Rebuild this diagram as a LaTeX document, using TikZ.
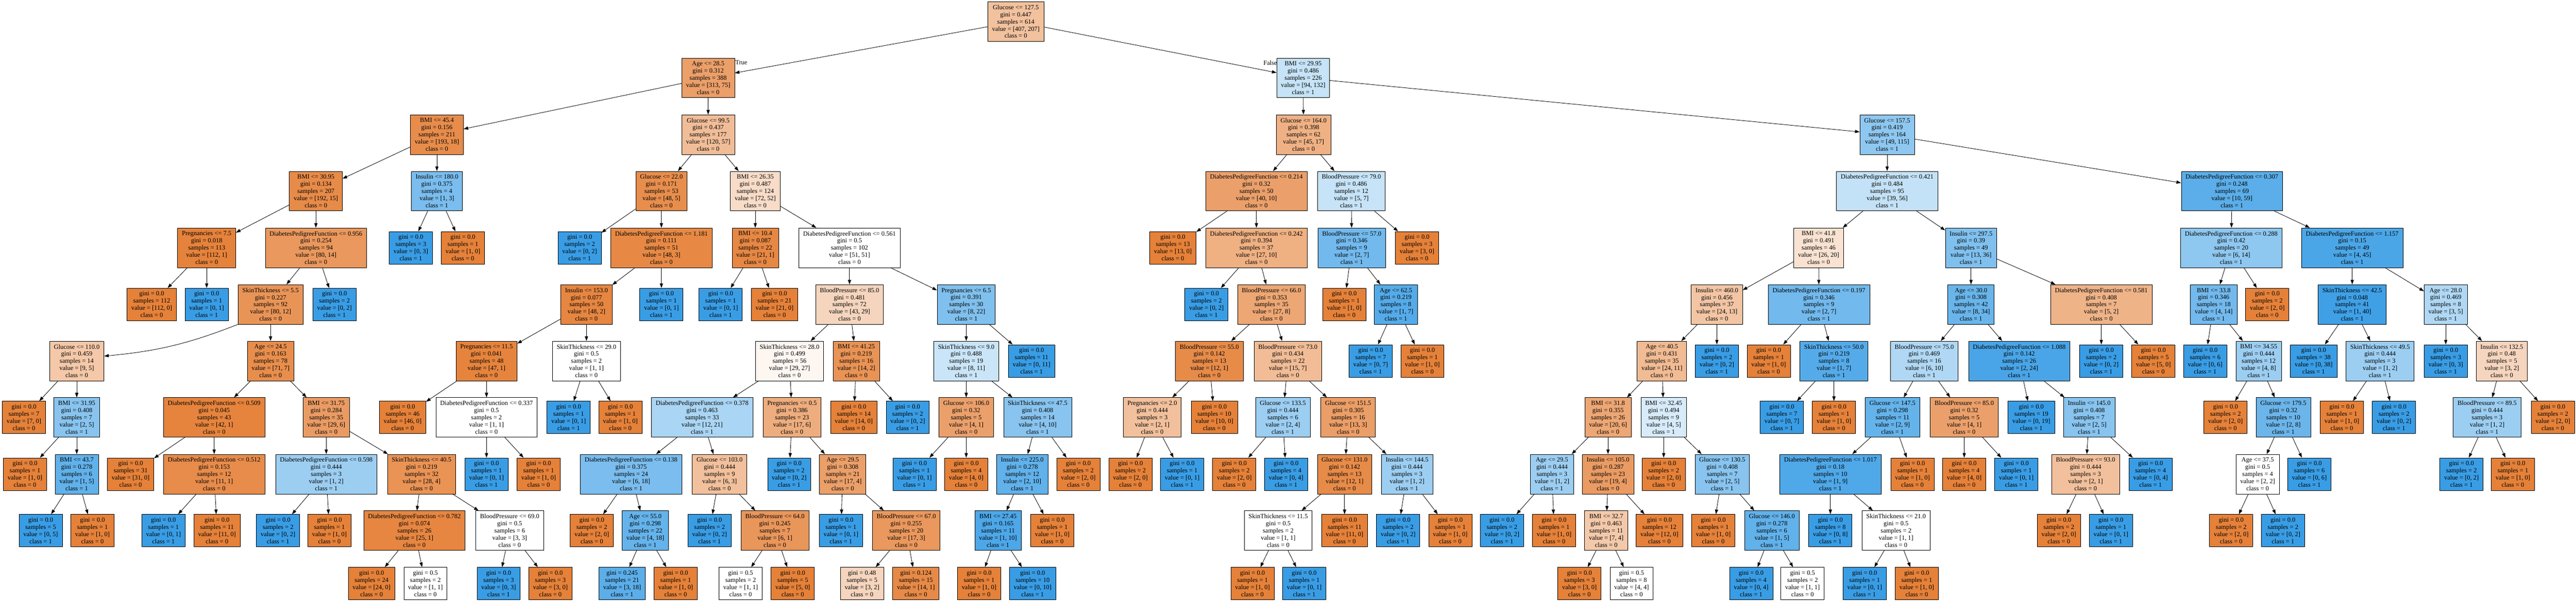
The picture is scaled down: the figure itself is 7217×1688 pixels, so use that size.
\documentclass[tikz,border=0pt]{standalone}
\usepackage{fontspec}
\setmainfont{Liberation Serif}
\usetikzlibrary{arrows.meta}
\definecolor{clszero}{HTML}{E58139}
\definecolor{clsone}{HTML}{399DE5}
\tikzset{
  testbox/.style={draw=black, line width=1pt, rectangle, align=center,
    inner xsep=12pt, inner ysep=3pt, minimum height=111pt,
    font=\fontsize{18}{20}\selectfont},
  leafbox/.style={testbox, minimum height=91pt},
  fillv/.style 2 args={/utils/exec={%
      \ifnum#1<#2\relax
        \pgfmathtruncatemacro\mixpct{(#2-#1)/#2*100+0.5}\colorlet{boxfill}{clsone!\mixpct!white}%
      \else
        \pgfmathtruncatemacro\mixpct{(#1-#2)/#1*100+0.5}\colorlet{boxfill}{clszero!\mixpct!white}%
      \fi},
    fill=boxfill},
  branch/.style={draw=black, line width=1.2pt, -{Triangle[length=13pt,width=9pt]}},
  sidelabel/.style={font=\fontsize{18}{20}\selectfont, inner sep=0pt}
}

\begin{document}
\begin{tikzpicture}[x=1pt,y=-1pt]
\fill[white] (0,0) rectangle (7217,1688);
\useasboundingbox (0,0) rectangle (7217,1688);
%   Racine :
\node[testbox,fillv={407}{207}] (n0) at (2846,60.5) {Glucose <= 127.5\\gini = 0.447\\samples = 614\\value = [407, 207]\\class = 0};
%   Niveau 1 :
\node[testbox,fillv={313}{75}] (n1a) at (1984,218.5) {Age <= 28.5\\gini = 0.312\\samples = 388\\value = [313, 75]\\class = 0};
\node[testbox,fillv={94}{132}] (n1b) at (3651,218.5) {BMI <= 29.95\\gini = 0.486\\samples = 226\\value = [94, 132]\\class = 1};
\node[sidelabel,anchor=west] (truelbl) at (2060,176) {True};
\node[sidelabel,anchor=east] (falselbl) at (3578,176) {False};
%   Niveau 2 :
\node[testbox,fillv={193}{18}] (n2a) at (1224,377.5) {BMI <= 45.4\\gini = 0.156\\samples = 211\\value = [193, 18]\\class = 0};
\node[testbox,fillv={120}{57}] (n2b) at (1984,377.5) {Glucose <= 99.5\\gini = 0.437\\samples = 177\\value = [120, 57]\\class = 0};
\node[testbox,fillv={45}{17}] (n2c) at (3652,377.5) {Glucose <= 164.0\\gini = 0.398\\samples = 62\\value = [45, 17]\\class = 0};
\node[testbox,fillv={49}{115}] (n2d) at (5287,377.5) {Glucose <= 157.5\\gini = 0.419\\samples = 164\\value = [49, 115]\\class = 1};
%   Niveau 3 :
\node[testbox,fillv={192}{15}] (n3a) at (885,536) {BMI <= 30.95\\gini = 0.134\\samples = 207\\value = [192, 15]\\class = 0};
\node[testbox,fillv={1}{3}] (n3b) at (1224,536) {Insulin <= 180.0\\gini = 0.375\\samples = 4\\value = [1, 3]\\class = 1};
\node[testbox,fillv={48}{5}] (n3c) at (1853,536) {Glucose <= 22.0\\gini = 0.171\\samples = 53\\value = [48, 5]\\class = 0};
\node[testbox,fillv={72}{52}] (n3d) at (2116,536) {BMI <= 26.35\\gini = 0.487\\samples = 124\\value = [72, 52]\\class = 0};
\node[testbox,fillv={40}{10}] (n3e) at (3520,536) {DiabetesPedigreeFunction <= 0.214\\gini = 0.32\\samples = 50\\value = [40, 10]\\class = 0};
\node[testbox,fillv={5}{7}] (n3f) at (3786,536) {BloodPressure <= 79.0\\gini = 0.486\\samples = 12\\value = [5, 7]\\class = 1};
\node[testbox,fillv={39}{56}] (n3g) at (5287,536) {DiabetesPedigreeFunction <= 0.421\\gini = 0.484\\samples = 95\\value = [39, 56]\\class = 1};
\node[testbox,fillv={10}{59}] (n3h) at (6253,536) {DiabetesPedigreeFunction <= 0.307\\gini = 0.248\\samples = 69\\value = [10, 59]\\class = 1};
%   Niveau 4 :
\node[testbox,fillv={112}{1}] (n4a) at (579,695) {Pregnancies <= 7.5\\gini = 0.018\\samples = 113\\value = [112, 1]\\class = 0};
\node[testbox,fillv={80}{14}] (n4b) at (885,695) {DiabetesPedigreeFunction <= 0.956\\gini = 0.254\\samples = 94\\value = [80, 14]\\class = 0};
\node[leafbox,fillv={0}{3}] (n4c) at (1151,695) {gini = 0.0\\samples = 3\\value = [0, 3]\\class = 1};
\node[leafbox,fillv={1}{0}] (n4d) at (1297,695) {gini = 0.0\\samples = 1\\value = [1, 0]\\class = 0};
\node[leafbox,fillv={0}{2}] (n4e) at (1624,695) {gini = 0.0\\samples = 2\\value = [0, 2]\\class = 1};
\node[testbox,fillv={48}{3}] (n4f) at (1853,695) {DiabetesPedigreeFunction <= 1.181\\gini = 0.111\\samples = 51\\value = [48, 3]\\class = 0};
\node[testbox,fillv={21}{1}] (n4g) at (2116,695) {BMI <= 10.4\\gini = 0.087\\samples = 22\\value = [21, 1]\\class = 0};
\node[testbox,fillv={51}{51}] (n4h) at (2380,695) {DiabetesPedigreeFunction <= 0.561\\gini = 0.5\\samples = 102\\value = [51, 51]\\class = 0};
\node[leafbox,fillv={13}{0}] (n4i) at (3286,695) {gini = 0.0\\samples = 13\\value = [13, 0]\\class = 0};
\node[testbox,fillv={27}{10}] (n4j) at (3520,695) {DiabetesPedigreeFunction <= 0.242\\gini = 0.394\\samples = 37\\value = [27, 10]\\class = 0};
\node[testbox,fillv={2}{7}] (n4k) at (3787,695) {BloodPressure <= 57.0\\gini = 0.346\\samples = 9\\value = [2, 7]\\class = 1};
\node[leafbox,fillv={3}{0}] (n4l) at (3970,695) {gini = 0.0\\samples = 3\\value = [3, 0]\\class = 0};
\node[testbox,fillv={26}{20}] (n4m) at (5095,695) {BMI <= 41.8\\gini = 0.491\\samples = 46\\value = [26, 20]\\class = 0};
\node[testbox,fillv={13}{36}] (n4n) at (5522,695) {Insulin <= 297.5\\gini = 0.39\\samples = 49\\value = [13, 36]\\class = 1};
\node[testbox,fillv={6}{14}] (n4o) at (6251,695) {DiabetesPedigreeFunction <= 0.288\\gini = 0.42\\samples = 20\\value = [6, 14]\\class = 1};
\node[testbox,fillv={4}{45}] (n4p) at (6590,695) {DiabetesPedigreeFunction <= 1.157\\gini = 0.15\\samples = 49\\value = [4, 45]\\class = 1};
%   Niveau 5 :
\node[leafbox,fillv={112}{0}] (n5a) at (425,854) {gini = 0.0\\samples = 112\\value = [112, 0]\\class = 0};
\node[leafbox,fillv={0}{1}] (n5b) at (579,854) {gini = 0.0\\samples = 1\\value = [0, 1]\\class = 1};
\node[testbox,fillv={80}{12}] (n5c) at (758,854) {SkinThickness <= 5.5\\gini = 0.227\\samples = 92\\value = [80, 12]\\class = 0};
\node[leafbox,fillv={0}{2}] (n5d) at (937,854) {gini = 0.0\\samples = 2\\value = [0, 2]\\class = 1};
\node[testbox,fillv={48}{2}] (n5e) at (1643,854) {Insulin <= 153.0\\gini = 0.077\\samples = 50\\value = [48, 2]\\class = 0};
\node[leafbox,fillv={0}{1}] (n5f) at (1853,854) {gini = 0.0\\samples = 1\\value = [0, 1]\\class = 1};
\node[leafbox,fillv={0}{1}] (n5g) at (2019,854) {gini = 0.0\\samples = 1\\value = [0, 1]\\class = 1};
\node[leafbox,fillv={21}{0}] (n5h) at (2170,854) {gini = 0.0\\samples = 21\\value = [21, 0]\\class = 0};
\node[testbox,fillv={43}{29}] (n5i) at (2380,854) {BloodPressure <= 85.0\\gini = 0.481\\samples = 72\\value = [43, 29]\\class = 0};
\node[testbox,fillv={8}{22}] (n5j) at (2707,854) {Pregnancies <= 6.5\\gini = 0.391\\samples = 30\\value = [8, 22]\\class = 1};
\node[leafbox,fillv={0}{2}] (n5k) at (3380,854) {gini = 0.0\\samples = 2\\value = [0, 2]\\class = 1};
\node[testbox,fillv={27}{8}] (n5l) at (3562,854) {BloodPressure <= 66.0\\gini = 0.353\\samples = 35\\value = [27, 8]\\class = 0};
\node[leafbox,fillv={1}{0}] (n5m) at (3766,854) {gini = 0.0\\samples = 1\\value = [1, 0]\\class = 0};
\node[testbox,fillv={1}{7}] (n5n) at (3911,854) {Age <= 62.5\\gini = 0.219\\samples = 8\\value = [1, 7]\\class = 1};
\node[testbox,fillv={24}{13}] (n5o) at (4810,854) {Insulin <= 460.0\\gini = 0.456\\samples = 37\\value = [24, 13]\\class = 0};
\node[testbox,fillv={2}{7}] (n5p) at (5096,854) {DiabetesPedigreeFunction <= 0.197\\gini = 0.346\\samples = 9\\value = [2, 7]\\class = 1};
\node[testbox,fillv={8}{34}] (n5q) at (5522,854) {Age <= 30.0\\gini = 0.308\\samples = 42\\value = [8, 34]\\class = 1};
\node[testbox,fillv={5}{2}] (n5r) at (5887,854) {DiabetesPedigreeFunction <= 0.581\\gini = 0.408\\samples = 7\\value = [5, 2]\\class = 0};
\node[testbox,fillv={4}{14}] (n5s) at (6202,854) {BMI <= 33.8\\gini = 0.346\\samples = 18\\value = [4, 14]\\class = 1};
\node[leafbox,fillv={2}{0}] (n5t) at (6352,854) {gini = 0.0\\samples = 2\\value = [2, 0]\\class = 0};
\node[testbox,fillv={1}{40}] (n5u) at (6590,854) {SkinThickness <= 42.5\\gini = 0.048\\samples = 41\\value = [1, 40]\\class = 1};
\node[testbox,fillv={3}{5}] (n5v) at (6852,854) {Age <= 28.0\\gini = 0.469\\samples = 8\\value = [3, 5]\\class = 1};
%   Niveau 6 :
\node[testbox,fillv={9}{5}] (n6a) at (215,1012.5) {Glucose <= 110.0\\gini = 0.459\\samples = 14\\value = [9, 5]\\class = 0};
\node[testbox,fillv={71}{7}] (n6b) at (758,1012.5) {Age <= 24.5\\gini = 0.163\\samples = 78\\value = [71, 7]\\class = 0};
\node[testbox,fillv={47}{1}] (n6c) at (1363,1012.5) {Pregnancies <= 11.5\\gini = 0.041\\samples = 48\\value = [47, 1]\\class = 0};
\node[testbox,fillv={1}{1}] (n6d) at (1643,1012.5) {SkinThickness <= 29.0\\gini = 0.5\\samples = 2\\value = [1, 1]\\class = 0};
\node[testbox,fillv={29}{27}] (n6e) at (2212,1012.5) {SkinThickness <= 28.0\\gini = 0.499\\samples = 56\\value = [29, 27]\\class = 0};
\node[testbox,fillv={14}{2}] (n6f) at (2399,1012.5) {BMI <= 41.25\\gini = 0.219\\samples = 16\\value = [14, 2]\\class = 0};
\node[testbox,fillv={8}{11}] (n6g) at (2707,1012.5) {SkinThickness <= 9.0\\gini = 0.488\\samples = 19\\value = [8, 11]\\class = 1};
\node[leafbox,fillv={0}{11}] (n6h) at (2890,1012.5) {gini = 0.0\\samples = 11\\value = [0, 11]\\class = 1};
\node[testbox,fillv={12}{1}] (n6i) at (3388,1012.5) {BloodPressure <= 55.0\\gini = 0.142\\samples = 13\\value = [12, 1]\\class = 0};
\node[testbox,fillv={15}{7}] (n6j) at (3608,1012.5) {BloodPressure <= 73.0\\gini = 0.434\\samples = 22\\value = [15, 7]\\class = 0};
\node[leafbox,fillv={0}{7}] (n6k) at (3840,1012.5) {gini = 0.0\\samples = 7\\value = [0, 7]\\class = 1};
\node[leafbox,fillv={1}{0}] (n6l) at (3985,1012.5) {gini = 0.0\\samples = 1\\value = [1, 0]\\class = 0};
\node[testbox,fillv={24}{11}] (n6m) at (4656,1012.5) {Age <= 40.5\\gini = 0.431\\samples = 35\\value = [24, 11]\\class = 0};
\node[leafbox,fillv={0}{2}] (n6n) at (4810,1012.5) {gini = 0.0\\samples = 2\\value = [0, 2]\\class = 1};
\node[leafbox,fillv={1}{0}] (n6o) at (4955,1012.5) {gini = 0.0\\samples = 1\\value = [1, 0]\\class = 0};
\node[testbox,fillv={1}{7}] (n6p) at (5138,1012.5) {SkinThickness <= 50.0\\gini = 0.219\\samples = 8\\value = [1, 7]\\class = 1};
\node[testbox,fillv={6}{10}] (n6q) at (5391,1012.5) {BloodPressure <= 75.0\\gini = 0.469\\samples = 16\\value = [6, 10]\\class = 1};
\node[testbox,fillv={2}{24}] (n6r) at (5657,1012.5) {DiabetesPedigreeFunction <= 1.088\\gini = 0.142\\samples = 26\\value = [2, 24]\\class = 1};
\node[leafbox,fillv={0}{2}] (n6s) at (5887,1012.5) {gini = 0.0\\samples = 2\\value = [0, 2]\\class = 1};
\node[leafbox,fillv={5}{0}] (n6t) at (6033,1012.5) {gini = 0.0\\samples = 5\\value = [5, 0]\\class = 0};
\node[leafbox,fillv={0}{6}] (n6u) at (6178,1012.5) {gini = 0.0\\samples = 6\\value = [0, 6]\\class = 1};
\node[testbox,fillv={4}{8}] (n6v) at (6328,1012.5) {BMI <= 34.55\\gini = 0.444\\samples = 12\\value = [4, 8]\\class = 1};
\node[leafbox,fillv={0}{38}] (n6w) at (6482,1012.5) {gini = 0.0\\samples = 38\\value = [0, 38]\\class = 1};
\node[testbox,fillv={1}{2}] (n6x) at (6668,1012.5) {SkinThickness <= 49.5\\gini = 0.444\\samples = 3\\value = [1, 2]\\class = 1};
\node[leafbox,fillv={0}{3}] (n6y) at (6852,1012.5) {gini = 0.0\\samples = 3\\value = [0, 3]\\class = 1};
\node[testbox,fillv={3}{2}] (n6z) at (7009,1012.5) {Insulin <= 132.5\\gini = 0.48\\samples = 5\\value = [3, 2]\\class = 0};
%   Niveau 7 :
\node[leafbox,fillv={7}{0}] (n7a) at (67,1171) {gini = 0.0\\samples = 7\\value = [7, 0]\\class = 0};
\node[testbox,fillv={2}{5}] (n7b) at (215,1171) {BMI <= 31.95\\gini = 0.408\\samples = 7\\value = [2, 5]\\class = 1};
\node[testbox,fillv={42}{1}] (n7c) at (600,1171) {DiabetesPedigreeFunction <= 0.509\\gini = 0.045\\samples = 43\\value = [42, 1]\\class = 0};
\node[testbox,fillv={29}{6}] (n7d) at (914,1171) {BMI <= 31.75\\gini = 0.284\\samples = 35\\value = [29, 6]\\class = 0};
\node[leafbox,fillv={46}{0}] (n7e) at (1128,1171) {gini = 0.0\\samples = 46\\value = [46, 0]\\class = 0};
\node[testbox,fillv={1}{1}] (n7f) at (1363,1171) {DiabetesPedigreeFunction <= 0.337\\gini = 0.5\\samples = 2\\value = [1, 1]\\class = 0};
\node[leafbox,fillv={0}{1}] (n7g) at (1593,1171) {gini = 0.0\\samples = 1\\value = [0, 1]\\class = 1};
\node[leafbox,fillv={1}{0}] (n7h) at (1738,1171) {gini = 0.0\\samples = 1\\value = [1, 0]\\class = 0};
\node[testbox,fillv={12}{21}] (n7i) at (1967,1171) {DiabetesPedigreeFunction <= 0.378\\gini = 0.463\\samples = 33\\value = [12, 21]\\class = 1};
\node[testbox,fillv={17}{6}] (n7j) at (2219,1171) {Pregnancies <= 0.5\\gini = 0.386\\samples = 23\\value = [17, 6]\\class = 0};
\node[leafbox,fillv={14}{0}] (n7k) at (2392,1171) {gini = 0.0\\samples = 14\\value = [14, 0]\\class = 0};
\node[leafbox,fillv={0}{2}] (n7l) at (2543,1171) {gini = 0.0\\samples = 2\\value = [0, 2]\\class = 1};
\node[testbox,fillv={4}{1}] (n7m) at (2707,1171) {Glucose <= 106.0\\gini = 0.32\\samples = 5\\value = [4, 1]\\class = 0};
\node[testbox,fillv={4}{10}] (n7n) at (2907,1171) {SkinThickness <= 47.5\\gini = 0.408\\samples = 14\\value = [4, 10]\\class = 1};
\node[testbox,fillv={2}{1}] (n7o) at (3228,1171) {Pregnancies <= 2.0\\gini = 0.444\\samples = 3\\value = [2, 1]\\class = 0};
\node[leafbox,fillv={10}{0}] (n7p) at (3402,1171) {gini = 0.0\\samples = 10\\value = [10, 0]\\class = 0};
\node[testbox,fillv={2}{4}] (n7q) at (3594,1171) {Glucose <= 133.5\\gini = 0.444\\samples = 6\\value = [2, 4]\\class = 1};
\node[testbox,fillv={13}{3}] (n7r) at (3777,1171) {Glucose <= 151.5\\gini = 0.305\\samples = 16\\value = [13, 3]\\class = 0};
\node[testbox,fillv={20}{6}] (n7s) at (4505,1171) {BMI <= 31.8\\gini = 0.355\\samples = 26\\value = [20, 6]\\class = 0};
\node[testbox,fillv={4}{5}] (n7t) at (4661,1171) {BMI <= 32.45\\gini = 0.494\\samples = 9\\value = [4, 5]\\class = 1};
\node[leafbox,fillv={0}{7}] (n7u) at (4992,1171) {gini = 0.0\\samples = 7\\value = [0, 7]\\class = 1};
\node[leafbox,fillv={1}{0}] (n7v) at (5138,1171) {gini = 0.0\\samples = 1\\value = [1, 0]\\class = 0};
\node[testbox,fillv={2}{9}] (n7w) at (5302,1171) {Glucose <= 147.5\\gini = 0.298\\samples = 11\\value = [2, 9]\\class = 1};
\node[testbox,fillv={4}{1}] (n7x) at (5503,1171) {BloodPressure <= 85.0\\gini = 0.32\\samples = 5\\value = [4, 1]\\class = 0};
\node[leafbox,fillv={0}{19}] (n7y) at (5691,1171) {gini = 0.0\\samples = 19\\value = [0, 19]\\class = 1};
\node[testbox,fillv={2}{5}] (n7z) at (5853,1171) {Insulin <= 145.0\\gini = 0.408\\samples = 7\\value = [2, 5]\\class = 1};
\node[leafbox,fillv={2}{0}] (n7A) at (6235,1171) {gini = 0.0\\samples = 2\\value = [2, 0]\\class = 0};
\node[testbox,fillv={2}{8}] (n7B) at (6397,1171) {Glucose <= 179.5\\gini = 0.32\\samples = 10\\value = [2, 8]\\class = 1};
\node[leafbox,fillv={1}{0}] (n7C) at (6561,1171) {gini = 0.0\\samples = 1\\value = [1, 0]\\class = 0};
\node[leafbox,fillv={0}{2}] (n7D) at (6707,1171) {gini = 0.0\\samples = 2\\value = [0, 2]\\class = 1};
\node[testbox,fillv={1}{2}] (n7E) at (6968,1171) {BloodPressure <= 89.5\\gini = 0.444\\samples = 3\\value = [1, 2]\\class = 1};
\node[leafbox,fillv={2}{0}] (n7F) at (7152,1171) {gini = 0.0\\samples = 2\\value = [2, 0]\\class = 0};
%   Niveau 8 :
\node[leafbox,fillv={1}{0}] (n8a) at (70,1330) {gini = 0.0\\samples = 1\\value = [1, 0]\\class = 0};
\node[testbox,fillv={1}{5}] (n8b) at (215,1330) {BMI <= 43.7\\gini = 0.278\\samples = 6\\value = [1, 5]\\class = 1};
\node[leafbox,fillv={31}{0}] (n8c) at (366,1330) {gini = 0.0\\samples = 31\\value = [31, 0]\\class = 0};
\node[testbox,fillv={11}{1}] (n8d) at (600,1330) {DiabetesPedigreeFunction <= 0.512\\gini = 0.153\\samples = 12\\value = [11, 1]\\class = 0};
\node[testbox,fillv={1}{2}] (n8e) at (914,1330) {DiabetesPedigreeFunction <= 0.598\\gini = 0.444\\samples = 3\\value = [1, 2]\\class = 1};
\node[testbox,fillv={28}{4}] (n8f) at (1181,1330) {SkinThickness <= 40.5\\gini = 0.219\\samples = 32\\value = [28, 4]\\class = 0};
\node[leafbox,fillv={0}{1}] (n8g) at (1363,1330) {gini = 0.0\\samples = 1\\value = [0, 1]\\class = 1};
\node[leafbox,fillv={1}{0}] (n8h) at (1509,1330) {gini = 0.0\\samples = 1\\value = [1, 0]\\class = 0};
\node[testbox,fillv={6}{18}] (n8i) at (1768,1330) {DiabetesPedigreeFunction <= 0.138\\gini = 0.375\\samples = 24\\value = [6, 18]\\class = 1};
\node[testbox,fillv={6}{3}] (n8j) at (2016,1330) {Glucose <= 103.0\\gini = 0.444\\samples = 9\\value = [6, 3]\\class = 0};
\node[leafbox,fillv={0}{2}] (n8k) at (2211,1330) {gini = 0.0\\samples = 2\\value = [0, 2]\\class = 1};
\node[testbox,fillv={17}{4}] (n8l) at (2361,1330) {Age <= 29.5\\gini = 0.308\\samples = 21\\value = [17, 4]\\class = 0};
\node[leafbox,fillv={0}{1}] (n8m) at (2562,1330) {gini = 0.0\\samples = 1\\value = [0, 1]\\class = 1};
\node[leafbox,fillv={4}{0}] (n8n) at (2707,1330) {gini = 0.0\\samples = 4\\value = [4, 0]\\class = 0};
\node[testbox,fillv={2}{10}] (n8o) at (2864,1330) {Insulin <= 225.0\\gini = 0.278\\samples = 12\\value = [2, 10]\\class = 1};
\node[leafbox,fillv={2}{0}] (n8p) at (3021,1330) {gini = 0.0\\samples = 2\\value = [2, 0]\\class = 0};
\node[leafbox,fillv={2}{0}] (n8q) at (3167,1330) {gini = 0.0\\samples = 2\\value = [2, 0]\\class = 0};
\node[leafbox,fillv={0}{1}] (n8r) at (3312,1330) {gini = 0.0\\samples = 1\\value = [0, 1]\\class = 1};
\node[leafbox,fillv={2}{0}] (n8s) at (3458,1330) {gini = 0.0\\samples = 2\\value = [2, 0]\\class = 0};
\node[leafbox,fillv={0}{4}] (n8t) at (3603,1330) {gini = 0.0\\samples = 4\\value = [0, 4]\\class = 1};
\node[testbox,fillv={12}{1}] (n8u) at (3767,1330) {Glucose <= 131.0\\gini = 0.142\\samples = 13\\value = [12, 1]\\class = 0};
\node[testbox,fillv={1}{2}] (n8v) at (3942,1330) {Insulin <= 144.5\\gini = 0.444\\samples = 3\\value = [1, 2]\\class = 1};
\node[testbox,fillv={1}{2}] (n8w) at (4348,1330) {Age <= 29.5\\gini = 0.444\\samples = 3\\value = [1, 2]\\class = 1};
\node[testbox,fillv={19}{4}] (n8x) at (4505,1330) {Insulin <= 105.0\\gini = 0.287\\samples = 23\\value = [19, 4]\\class = 0};
\node[leafbox,fillv={2}{0}] (n8y) at (4661,1330) {gini = 0.0\\samples = 2\\value = [2, 0]\\class = 0};
\node[testbox,fillv={2}{5}] (n8z) at (4825,1330) {Glucose <= 130.5\\gini = 0.408\\samples = 7\\value = [2, 5]\\class = 1};
\node[testbox,fillv={1}{9}] (n8A) at (5128,1330) {DiabetesPedigreeFunction <= 1.017\\gini = 0.18\\samples = 10\\value = [1, 9]\\class = 1};
\node[leafbox,fillv={1}{0}] (n8B) at (5358,1330) {gini = 0.0\\samples = 1\\value = [1, 0]\\class = 0};
\node[leafbox,fillv={4}{0}] (n8C) at (5503,1330) {gini = 0.0\\samples = 4\\value = [4, 0]\\class = 0};
\node[leafbox,fillv={0}{1}] (n8D) at (5649,1330) {gini = 0.0\\samples = 1\\value = [0, 1]\\class = 1};
\node[testbox,fillv={2}{1}] (n8E) at (5843,1330) {BloodPressure <= 93.0\\gini = 0.444\\samples = 3\\value = [2, 1]\\class = 0};
\node[leafbox,fillv={0}{4}] (n8F) at (6025,1330) {gini = 0.0\\samples = 4\\value = [0, 4]\\class = 1};
\node[testbox,fillv={2}{2}] (n8G) at (6325,1330) {Age <= 37.5\\gini = 0.5\\samples = 4\\value = [2, 2]\\class = 0};
\node[leafbox,fillv={0}{6}] (n8H) at (6470,1330) {gini = 0.0\\samples = 6\\value = [0, 6]\\class = 1};
\node[leafbox,fillv={0}{2}] (n8I) at (6896,1330) {gini = 0.0\\samples = 2\\value = [0, 2]\\class = 1};
\node[leafbox,fillv={1}{0}] (n8J) at (7040,1330) {gini = 0.0\\samples = 1\\value = [1, 0]\\class = 0};
%   Niveau 9 :
\node[leafbox,fillv={0}{5}] (n9a) at (114,1488.5) {gini = 0.0\\samples = 5\\value = [0, 5]\\class = 1};
\node[leafbox,fillv={1}{0}] (n9b) at (259,1488.5) {gini = 0.0\\samples = 1\\value = [1, 0]\\class = 0};
\node[leafbox,fillv={0}{1}] (n9c) at (458,1488.5) {gini = 0.0\\samples = 1\\value = [0, 1]\\class = 1};
\node[leafbox,fillv={11}{0}] (n9d) at (608,1488.5) {gini = 0.0\\samples = 11\\value = [11, 0]\\class = 0};
\node[leafbox,fillv={0}{2}] (n9e) at (779,1488.5) {gini = 0.0\\samples = 2\\value = [0, 2]\\class = 1};
\node[leafbox,fillv={1}{0}] (n9f) at (923,1488.5) {gini = 0.0\\samples = 1\\value = [1, 0]\\class = 0};
\node[testbox,fillv={25}{1}] (n9g) at (1161,1488.5) {DiabetesPedigreeFunction <= 0.782\\gini = 0.074\\samples = 26\\value = [25, 1]\\class = 0};
\node[testbox,fillv={3}{3}] (n9h) at (1428,1488.5) {BloodPressure <= 69.0\\gini = 0.5\\samples = 6\\value = [3, 3]\\class = 0};
\node[leafbox,fillv={2}{0}] (n9i) at (1658,1488.5) {gini = 0.0\\samples = 2\\value = [2, 0]\\class = 0};
\node[testbox,fillv={4}{18}] (n9j) at (1808,1488.5) {Age <= 55.0\\gini = 0.298\\samples = 22\\value = [4, 18]\\class = 1};
\node[leafbox,fillv={0}{2}] (n9k) at (1988,1488.5) {gini = 0.0\\samples = 2\\value = [0, 2]\\class = 1};
\node[testbox,fillv={6}{1}] (n9l) at (2171,1488.5) {BloodPressure <= 64.0\\gini = 0.245\\samples = 7\\value = [6, 1]\\class = 0};
\node[leafbox,fillv={0}{1}] (n9m) at (2356,1488.5) {gini = 0.0\\samples = 1\\value = [0, 1]\\class = 1};
\node[testbox,fillv={17}{3}] (n9n) at (2539,1488.5) {BloodPressure <= 67.0\\gini = 0.255\\samples = 20\\value = [17, 3]\\class = 0};
\node[testbox,fillv={1}{10}] (n9o) at (2796,1488.5) {BMI <= 27.45\\gini = 0.165\\samples = 11\\value = [1, 10]\\class = 1};
\node[leafbox,fillv={1}{0}] (n9p) at (2948,1488.5) {gini = 0.0\\samples = 1\\value = [1, 0]\\class = 0};
\node[testbox,fillv={1}{1}] (n9q) at (3581,1488.5) {SkinThickness <= 11.5\\gini = 0.5\\samples = 2\\value = [1, 1]\\class = 0};
\node[leafbox,fillv={11}{0}] (n9r) at (3767,1488.5) {gini = 0.0\\samples = 11\\value = [11, 0]\\class = 0};
\node[leafbox,fillv={0}{2}] (n9s) at (3917,1488.5) {gini = 0.0\\samples = 2\\value = [0, 2]\\class = 1};
\node[leafbox,fillv={1}{0}] (n9t) at (4063,1488.5) {gini = 0.0\\samples = 1\\value = [1, 0]\\class = 0};
\node[leafbox,fillv={0}{2}] (n9u) at (4208,1488.5) {gini = 0.0\\samples = 2\\value = [0, 2]\\class = 1};
\node[leafbox,fillv={1}{0}] (n9v) at (4354,1488.5) {gini = 0.0\\samples = 1\\value = [1, 0]\\class = 0};
\node[testbox,fillv={7}{4}] (n9w) at (4500,1488.5) {BMI <= 32.7\\gini = 0.463\\samples = 11\\value = [7, 4]\\class = 0};
\node[leafbox,fillv={12}{0}] (n9x) at (4649,1488.5) {gini = 0.0\\samples = 12\\value = [12, 0]\\class = 0};
\node[leafbox,fillv={1}{0}] (n9y) at (4800,1488.5) {gini = 0.0\\samples = 1\\value = [1, 0]\\class = 0};
\node[testbox,fillv={1}{5}] (n9z) at (4964,1488.5) {Glucose <= 146.0\\gini = 0.278\\samples = 6\\value = [1, 5]\\class = 1};
\node[leafbox,fillv={0}{8}] (n9A) at (5128,1488.5) {gini = 0.0\\samples = 8\\value = [0, 8]\\class = 1};
\node[testbox,fillv={1}{1}] (n9B) at (5312,1488.5) {SkinThickness <= 21.0\\gini = 0.5\\samples = 2\\value = [1, 1]\\class = 0};
\node[leafbox,fillv={2}{0}] (n9C) at (5768,1488.5) {gini = 0.0\\samples = 2\\value = [2, 0]\\class = 0};
\node[leafbox,fillv={0}{1}] (n9D) at (5914,1488.5) {gini = 0.0\\samples = 1\\value = [0, 1]\\class = 1};
\node[leafbox,fillv={2}{0}] (n9E) at (6251,1488.5) {gini = 0.0\\samples = 2\\value = [2, 0]\\class = 0};
\node[leafbox,fillv={0}{2}] (n9F) at (6396,1488.5) {gini = 0.0\\samples = 2\\value = [0, 2]\\class = 1};
%   Niveau 10 :
\node[leafbox,fillv={24}{0}] (n10a) at (1041,1637) {gini = 0.0\\samples = 24\\value = [24, 0]\\class = 0};
\node[leafbox,fillv={1}{1}] (n10b) at (1192,1637) {gini = 0.5\\samples = 2\\value = [1, 1]\\class = 0};
\node[leafbox,fillv={0}{3}] (n10c) at (1397,1637) {gini = 0.0\\samples = 3\\value = [0, 3]\\class = 1};
\node[leafbox,fillv={3}{0}] (n10d) at (1542,1637) {gini = 0.0\\samples = 3\\value = [3, 0]\\class = 0};
\node[leafbox,fillv={3}{18}] (n10e) at (1743,1637) {gini = 0.245\\samples = 21\\value = [3, 18]\\class = 1};
\node[leafbox,fillv={1}{0}] (n10f) at (1893,1637) {gini = 0.0\\samples = 1\\value = [1, 0]\\class = 0};
\node[leafbox,fillv={1}{1}] (n10g) at (2075,1637) {gini = 0.5\\samples = 2\\value = [1, 1]\\class = 0};
\node[leafbox,fillv={5}{0}] (n10h) at (2221,1637) {gini = 0.0\\samples = 5\\value = [5, 0]\\class = 0};
\node[leafbox,fillv={3}{2}] (n10i) at (2415,1637) {gini = 0.48\\samples = 5\\value = [3, 2]\\class = 0};
\node[leafbox,fillv={14}{1}] (n10j) at (2566,1637) {gini = 0.124\\samples = 15\\value = [14, 1]\\class = 0};
\node[leafbox,fillv={1}{0}] (n10k) at (2743,1637) {gini = 0.0\\samples = 1\\value = [1, 0]\\class = 0};
\node[leafbox,fillv={0}{10}] (n10l) at (2893,1637) {gini = 0.0\\samples = 10\\value = [0, 10]\\class = 1};
\node[leafbox,fillv={1}{0}] (n10m) at (3509,1637) {gini = 0.0\\samples = 1\\value = [1, 0]\\class = 0};
\node[leafbox,fillv={0}{1}] (n10n) at (3654,1637) {gini = 0.0\\samples = 1\\value = [0, 1]\\class = 1};
\node[leafbox,fillv={3}{0}] (n10o) at (4425,1637) {gini = 0.0\\samples = 3\\value = [3, 0]\\class = 0};
\node[leafbox,fillv={4}{4}] (n10p) at (4571,1637) {gini = 0.5\\samples = 8\\value = [4, 4]\\class = 0};
\node[leafbox,fillv={0}{4}] (n10q) at (4906,1637) {gini = 0.0\\samples = 4\\value = [0, 4]\\class = 1};
\node[leafbox,fillv={1}{1}] (n10r) at (5050,1637) {gini = 0.5\\samples = 2\\value = [1, 1]\\class = 0};
\node[leafbox,fillv={0}{1}] (n10s) at (5224,1637) {gini = 0.0\\samples = 1\\value = [0, 1]\\class = 1};
\node[leafbox,fillv={1}{0}] (n10t) at (5370,1637) {gini = 0.0\\samples = 1\\value = [1, 0]\\class = 0};
%   Branches :
\path (n0) edge[branch] (n1a) edge[branch] (n1b);
\path (n1a) edge[branch] (n2a) edge[branch] (n2b);
\path (n1b) edge[branch] (n2c) edge[branch] (n2d);
\path (n2a) edge[branch] (n3a) edge[branch] (n3b);
\path (n2b) edge[branch] (n3c) edge[branch] (n3d);
\path (n2c) edge[branch] (n3e) edge[branch] (n3f);
\path (n2d) edge[branch] (n3g) edge[branch] (n3h);
\path (n3a) edge[branch] (n4a) edge[branch] (n4b);
\path (n3b) edge[branch] (n4c) edge[branch] (n4d);
\path (n3c) edge[branch] (n4e) edge[branch] (n4f);
\path (n3d) edge[branch] (n4g) edge[branch] (n4h);
\path (n3e) edge[branch] (n4i) edge[branch] (n4j);
\path (n3f) edge[branch] (n4k) edge[branch] (n4l);
\path (n3g) edge[branch] (n4m) edge[branch] (n4n);
\path (n3h) edge[branch] (n4o) edge[branch] (n4p);
\path (n4a) edge[branch] (n5a) edge[branch] (n5b);
\path (n4b) edge[branch] (n5c) edge[branch] (n5d);
\path (n4f) edge[branch] (n5e) edge[branch] (n5f);
\path (n4g) edge[branch] (n5g) edge[branch] (n5h);
\path (n4h) edge[branch] (n5i) edge[branch] (n5j);
\path (n4j) edge[branch] (n5k) edge[branch] (n5l);
\path (n4k) edge[branch] (n5m) edge[branch] (n5n);
\path (n4m) edge[branch] (n5o) edge[branch] (n5p);
\path (n4n) edge[branch] (n5q) edge[branch] (n5r);
\path (n4o) edge[branch] (n5s) edge[branch] (n5t);
\path (n4p) edge[branch] (n5u) edge[branch] (n5v);
\path (n5c.south west) edge[branch,bend left=8] (n6a.10) (n5c) edge[branch] (n6b);
\path (n5e) edge[branch] (n6c) edge[branch] (n6d);
\path (n5i) edge[branch] (n6e) edge[branch] (n6f);
\path (n5j) edge[branch] (n6g) edge[branch] (n6h);
\path (n5l) edge[branch] (n6i) edge[branch] (n6j);
\path (n5n) edge[branch] (n6k) edge[branch] (n6l);
\path (n5o) edge[branch] (n6m) edge[branch] (n6n);
\path (n5p) edge[branch] (n6o) edge[branch] (n6p);
\path (n5q) edge[branch] (n6q) edge[branch] (n6r);
\path (n5r) edge[branch] (n6s) edge[branch] (n6t);
\path (n5s) edge[branch] (n6u) edge[branch] (n6v);
\path (n5u) edge[branch] (n6w) edge[branch] (n6x);
\path (n5v) edge[branch] (n6y) edge[branch] (n6z);
\path (n6a) edge[branch] (n7a) edge[branch] (n7b);
\path (n6b) edge[branch] (n7c) edge[branch] (n7d);
\path (n6c) edge[branch] (n7e) edge[branch] (n7f);
\path (n6d) edge[branch] (n7g) edge[branch] (n7h);
\path (n6e) edge[branch] (n7i) edge[branch] (n7j);
\path (n6f) edge[branch] (n7k) edge[branch] (n7l);
\path (n6g) edge[branch] (n7m) edge[branch] (n7n);
\path (n6i) edge[branch] (n7o) edge[branch] (n7p);
\path (n6j) edge[branch] (n7q) edge[branch] (n7r);
\path (n6m) edge[branch] (n7s) edge[branch] (n7t);
\path (n6p) edge[branch] (n7u) edge[branch] (n7v);
\path (n6q) edge[branch] (n7w) edge[branch] (n7x);
\path (n6r) edge[branch] (n7y) edge[branch] (n7z);
\path (n6v) edge[branch] (n7A) edge[branch] (n7B);
\path (n6x) edge[branch] (n7C) edge[branch] (n7D);
\path (n6z) edge[branch] (n7E) edge[branch] (n7F);
\path (n7b) edge[branch] (n8a) edge[branch] (n8b);
\path (n7c) edge[branch] (n8c) edge[branch] (n8d);
\path (n7d) edge[branch] (n8e) edge[branch] (n8f);
\path (n7f) edge[branch] (n8g) edge[branch] (n8h);
\path (n7i) edge[branch] (n8i) edge[branch] (n8j);
\path (n7j) edge[branch] (n8k) edge[branch] (n8l);
\path (n7m) edge[branch] (n8m) edge[branch] (n8n);
\path (n7n) edge[branch] (n8o) edge[branch] (n8p);
\path (n7o) edge[branch] (n8q) edge[branch] (n8r);
\path (n7q) edge[branch] (n8s) edge[branch] (n8t);
\path (n7r) edge[branch] (n8u) edge[branch] (n8v);
\path (n7s) edge[branch] (n8w) edge[branch] (n8x);
\path (n7t) edge[branch] (n8y) edge[branch] (n8z);
\path (n7w) edge[branch] (n8A) edge[branch] (n8B);
\path (n7x) edge[branch] (n8C) edge[branch] (n8D);
\path (n7z) edge[branch] (n8E) edge[branch] (n8F);
\path (n7B) edge[branch] (n8G) edge[branch] (n8H);
\path (n7E) edge[branch] (n8I) edge[branch] (n8J);
\path (n8b) edge[branch] (n9a) edge[branch] (n9b);
\path (n8d) edge[branch] (n9c) edge[branch] (n9d);
\path (n8e) edge[branch] (n9e) edge[branch] (n9f);
\path (n8f) edge[branch] (n9g) edge[branch] (n9h);
\path (n8i) edge[branch] (n9i) edge[branch] (n9j);
\path (n8j) edge[branch] (n9k) edge[branch] (n9l);
\path (n8l) edge[branch] (n9m) edge[branch] (n9n);
\path (n8o) edge[branch] (n9o) edge[branch] (n9p);
\path (n8u) edge[branch] (n9q) edge[branch] (n9r);
\path (n8v) edge[branch] (n9s) edge[branch] (n9t);
\path (n8w) edge[branch] (n9u) edge[branch] (n9v);
\path (n8x) edge[branch] (n9w) edge[branch] (n9x);
\path (n8z) edge[branch] (n9y) edge[branch] (n9z);
\path (n8A) edge[branch] (n9A) edge[branch] (n9B);
\path (n8E) edge[branch] (n9C) edge[branch] (n9D);
\path (n8G) edge[branch] (n9E) edge[branch] (n9F);
\path (n9g) edge[branch] (n10a) edge[branch] (n10b);
\path (n9h) edge[branch] (n10c) edge[branch] (n10d);
\path (n9j) edge[branch] (n10e) edge[branch] (n10f);
\path (n9l) edge[branch] (n10g) edge[branch] (n10h);
\path (n9n) edge[branch] (n10i) edge[branch] (n10j);
\path (n9o) edge[branch] (n10k) edge[branch] (n10l);
\path (n9q) edge[branch] (n10m) edge[branch] (n10n);
\path (n9w) edge[branch] (n10o) edge[branch] (n10p);
\path (n9z) edge[branch] (n10q) edge[branch] (n10r);
\path (n9B) edge[branch] (n10s) edge[branch] (n10t);
\end{tikzpicture}
\end{document}
